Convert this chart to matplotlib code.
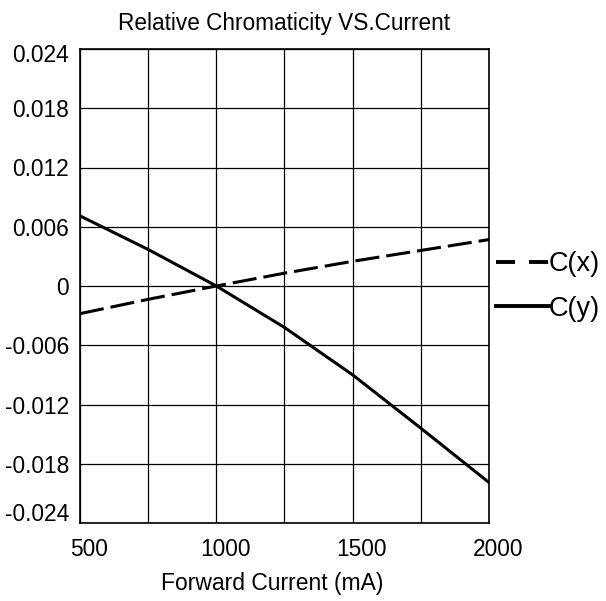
import matplotlib
matplotlib.use("Agg")
import matplotlib.pyplot as plt
from matplotlib.lines import Line2D
from matplotlib.transforms import ScaledTranslation

plt.rcParams['font.family'] = ['Liberation Sans', 'DejaVu Sans']

current = [500, 750, 1000, 1250, 1500, 1750, 2000]
cx = [-0.0028, -0.00135, 0.0, 0.0013, 0.0025, 0.0036, 0.0047]
cy = [0.0071, 0.0037, 0.0, -0.0042, -0.0090, -0.0144, -0.0199]

xticks = [500, 1000, 1500, 2000]
xgrid = [500, 750, 1000, 1250, 1500, 1750, 2000]
yticks = [-0.024, -0.018, -0.012, -0.006, 0, 0.006, 0.012, 0.018, 0.024]
ytick_labels = ['-0.024', '-0.018', '-0.012', '-0.006', '0', '0.006', '0.012', '0.018', '0.024']

fig = plt.figure(figsize=(6.06, 6.01), dpi=100)
ax = fig.add_axes([80/606, 1-523/601, 409/606, 474/601])

lw = 2.2
ax.plot(current, cx, color='black', lw=lw, ls=(0, (7.9, 2.3)), solid_capstyle='butt', dash_capstyle='butt')
ax.plot(current, cy, color='black', lw=lw)

ax.set_xlim(500, 2000)
ax.set_ylim(-0.024, 0.024)
ax.set_xticks(xgrid)
ax.set_xticklabels([str(v) if v in xticks else '' for v in xgrid])
ax.set_yticks(yticks)
ax.set_yticklabels(ytick_labels)
ax.grid(True, color='black', lw=0.9)
ax.set_axisbelow(True)
for s in ax.spines.values():
    s.set_linewidth(1.2)
ax.tick_params(length=0, labelsize=16.4)
ax.tick_params(axis='y', pad=8)
ax.tick_params(axis='x', pad=11)

# small label offsets as in the reference
for lab in ax.get_xticklabels():
    lab.set_transform(lab.get_transform() + ScaledTranslation(9/100, 0, fig.dpi_scale_trans))
ylabs = ax.get_yticklabels()
ylabs[0].set_transform(ylabs[0].get_transform() + ScaledTranslation(0, 11/100, fig.dpi_scale_trans))
ylabs[-1].set_transform(ylabs[-1].get_transform() + ScaledTranslation(0, -4/100, fig.dpi_scale_trans))

ax.set_title('Relative Chromaticity VS.Current', fontsize=16.3, pad=14)
ax.set_xlabel('Forward Current (mA)', fontsize=16.5)
ax.xaxis.set_label_coords(0.47, -0.104)

h1 = Line2D([], [], color='black', lw=2.8, ls=(0, (4.9, 3.6)))
h2 = Line2D([], [], color='black', lw=2.8)
leg = ax.legend([h1, h2], ['C(x)', 'C(y)'], loc='center left',
                bbox_to_anchor=(1.017, 0.499), frameon=False, fontsize=19.5,
                handlelength=1.95, handletextpad=0.0, borderpad=0, borderaxespad=0,
                labelspacing=0.7)

fig.savefig('out.png', dpi=100)
